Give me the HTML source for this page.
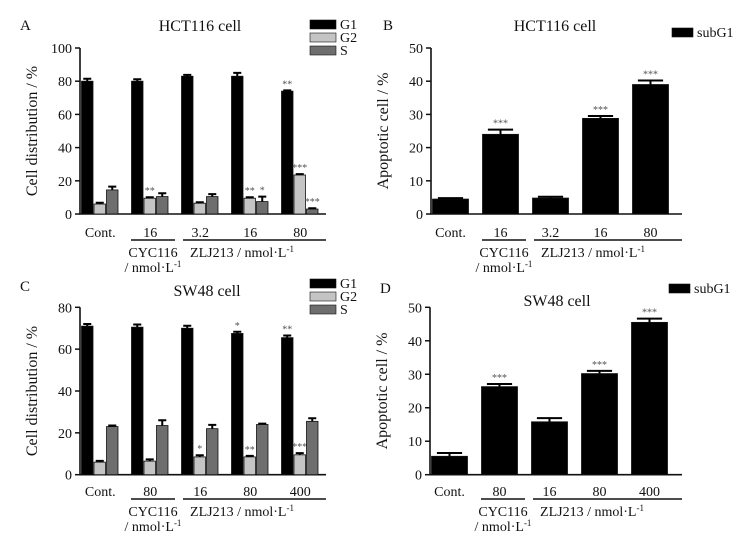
<!DOCTYPE html>
<html><head><meta charset="utf-8"><style>
html,body{margin:0;padding:0;background:#fff;}
svg{display:block;font-family:"Liberation Serif",serif;}
</style></head><body>
<svg id="fig" width="754" height="538" viewBox="0 0 754 538" xmlns="http://www.w3.org/2000/svg"></svg>
<script>
// ---- data ----
const catsA = ["Cont.","16","3.2","16","80"];
const catsC = ["Cont.","80","16","80","400"];
const seriesNames = ["G1","G2","S"];
const aG1 = [80,80,83,83,74];
const aG1err = [1.5,1.2,0.8,2,0.5];
const aG2 = [6,9.5,6.5,9.5,23.5];
const aG2err = [0.8,0.6,0.6,0.6,0.5];
const aS = [14.5,10.5,10.5,7.5,3];
const aSerr = [2,2,1.5,3,0.5];
const aG1sig = ["","","","","**"];
const aG2sig = ["","**","","**","***"];
const aSsig = ["","","","*","***"];
const cG1 = [71,70.5,70,67.5,65.5];
const cG1err = [1,1.3,1.2,0.8,1];
const cG2 = [6,6.5,8.5,8.5,9.5];
const cG2err = [0.6,0.8,0.8,0.5,0.8];
const cS = [23,23.5,22,24,25.5];
const cSerr = [0.5,2.5,1.8,0.4,1.5];
const cG1sig = ["","","","*","**"];
const cG2sig = ["","","*","**","***"];
const cSsig = ["","","","",""];
const bVals = [4.5,24,4.8,28.8,39];
const bErr = [0.3,1.4,0.4,0.7,1.2];
const bSig = ["","***","","***","***"];
const dVals = [5.5,26.3,15.8,30.2,45.5];
const dErr = [1,0.8,1.1,0.8,1.1];
const dSig = ["","***","","***","***"];
const ticksA = [0,20,40,60,80,100];
const ticksC = [0,20,40,60,80];
const ticksB = [0,10,20,30,40,50];

const svg = document.getElementById('fig');
const NS = "http://www.w3.org/2000/svg";
function mk(tag, attrs, parent){
  const e = document.createElementNS(NS, tag);
  for (const k in attrs) e.setAttribute(k, attrs[k]);
  (parent||svg).appendChild(e);
  return e;
}
function txt(x,y,s,size,anchor,name,parent){
  const t = mk('text',{x:x,y:y,'font-size':size,'text-anchor':anchor||'middle',fill:'#111'},parent);
  t.textContent = s;
  
  
  return t;
}
const colors = ["#000","#c4c4c4","#6e6e6e"];

function panel(o){
  const g = mk('g',{});
  
  
  const y = v => o.y0 - (v - 0) / o.max * (o.y0 - o.yTop);
  txt(o.letterX, o.letterY, o.letter, 15, 'start', 'panel-letter', g);
  txt(o.titleX, o.titleY, o.title, 16, 'middle', 'chart-title', g);
  // axes
  const ax = mk('path',{d:`M${o.axX},${o.yTop}V${o.y0}H${o.axEnd}`,stroke:'#111','stroke-width':1.6,fill:'none'},g);
  
  
  o.ticks.forEach(t=>{
    const tk = mk('line',{x1:o.axX-5,x2:o.axX,y1:y(t),y2:y(t),stroke:'#111','stroke-width':1.5},g);
    
    
    txt(o.axX-8, y(t)+5, String(t), 14, 'end', 'y-tick-label', g);
  });
  const yt = txt(0,0,o.ytitle,16,'middle','y-axis-title',g);
  yt.setAttribute('transform',`translate(${o.axX-43},${(o.y0+o.yTop)/2}) rotate(-90)`);
  // bars
  const bw = o.series.length>1 ? 11.5 : 36;
  const gap = o.series.length>1 ? 1 : 0;
  o.cats.forEach((c,i)=>{
    const gx = o.axX + 1.5 + i*50;
    o.series.forEach((s,j)=>{
      const x = gx + j*(bw+gap);
      const v = s.vals[i], e = s.err[i];
      const r = mk('rect',{x:x,y:y(v),width:bw,height:o.y0-y(v),fill:colors[j],stroke:'#111','stroke-width':0.8},g);
      
      
      const cx = x + bw/2, cw = bw*0.35;
      const eb = mk('path',{d:`M${cx},${y(v)}V${y(v+e)}M${cx-cw},${y(v+e)}H${cx+cw}`,stroke:'#000','stroke-width':2,fill:'none'},g);
      
      
      if (s.sig[i]) txt(cx, y(v+e)-3, s.sig[i], 10, 'middle', 'significance-mark', g).setAttribute('fill','#555');
    });
    const gw = o.series.length*(bw+gap);
    txt(gx+gw/2 + (o.series.length>1?0:0), o.catY, c, 14, 'middle', 'x-category-label', g);
  });
  // group lines
  const l1 = mk('line',{x1:o.axX+51,x2:o.axX+95,y1:o.lineY,y2:o.lineY,stroke:'#111','stroke-width':1.6},g);
   
  const l2 = mk('line',{x1:o.axX+103,x2:o.axEnd,y1:o.lineY,y2:o.lineY,stroke:'#111','stroke-width':1.6},g);
   
  txt(o.axX+73, o.lineY+17, 'CYC116', 14, 'middle', 'cyc116-label', g);
  const u1 = txt(o.axX+73, o.lineY+32, '/ nmol·L', 14, 'middle', 'cyc116-unit', g);
  const sup1 = mk('tspan',{dy:-5,'font-size':9},u1); sup1.textContent='-1';
  const u2 = txt(o.axX+162, o.lineY+17, 'ZLJ213 / nmol·L', 14, 'middle', 'zlj213-label', g);
  const sup2 = mk('tspan',{dy:-5,'font-size':9},u2); sup2.textContent='-1';
  // legend
  o.series.forEach((s,j)=>{
    const ly = o.legY + j*13;
    const lb = mk('rect',{x:o.legX,y:ly,width:o.legW,height:9,fill:colors[j],stroke:'#111','stroke-width':0.6},g);
    
    
    txt(o.legX+o.legW+4, ly+9, s.name||'subG1', 14, 'start', 'legend-entry', g);
  });
}

panel({name:'panel-a',letter:'A',letterX:20,letterY:30,title:'HCT116 cell',titleX:200,titleY:31,
  axX:80,axEnd:326,y0:214,yTop:48,max:100,ticks:ticksA,ytitle:'Cell distribution / %',
  cats:catsA,catY:237,lineY:240,legX:310,legY:20,legW:26,
  series:[{name:'G1',vals:aG1,err:aG1err,sig:aG1sig},{name:'G2',vals:aG2,err:aG2err,sig:aG2sig},{name:'S',vals:aS,err:aSerr,sig:aSsig}]});
panel({name:'panel-c',letter:'C',letterX:20,letterY:291,title:'SW48 cell',titleX:207,titleY:296,
  axX:80,axEnd:326,y0:474.7,yTop:307.3,max:80,ticks:ticksC,ytitle:'Cell distribution / %',
  cats:catsC,catY:496,lineY:499,legX:310,legY:279,legW:26,
  series:[{name:'G1',vals:cG1,err:cG1err,sig:cG1sig},{name:'G2',vals:cG2,err:cG2err,sig:cG2sig},{name:'S',vals:cS,err:cSerr,sig:cSsig}]});
panel({name:'panel-b',letter:'B',letterX:383,letterY:30,title:'HCT116 cell',titleX:555,titleY:31,
  axX:431,axEnd:682,y0:214,yTop:48,max:50,ticks:ticksB,ytitle:'Apoptotic cell / %',
  cats:catsA,catY:237,lineY:240,legX:672,legY:28,legW:21,
  series:[{name:'subG1',vals:bVals,err:bErr,sig:bSig}]});
panel({name:'panel-d',letter:'D',letterX:380,letterY:293,title:'SW48 cell',titleX:557,titleY:306,
  axX:430,axEnd:682,y0:474.7,yTop:307.3,max:50,ticks:ticksB,ytitle:'Apoptotic cell / %',
  cats:catsC,catY:496,lineY:499,legX:669,legY:284,legW:21,
  series:[{name:'subG1',vals:dVals,err:dErr,sig:dSig}]});
</script>
</body></html>
